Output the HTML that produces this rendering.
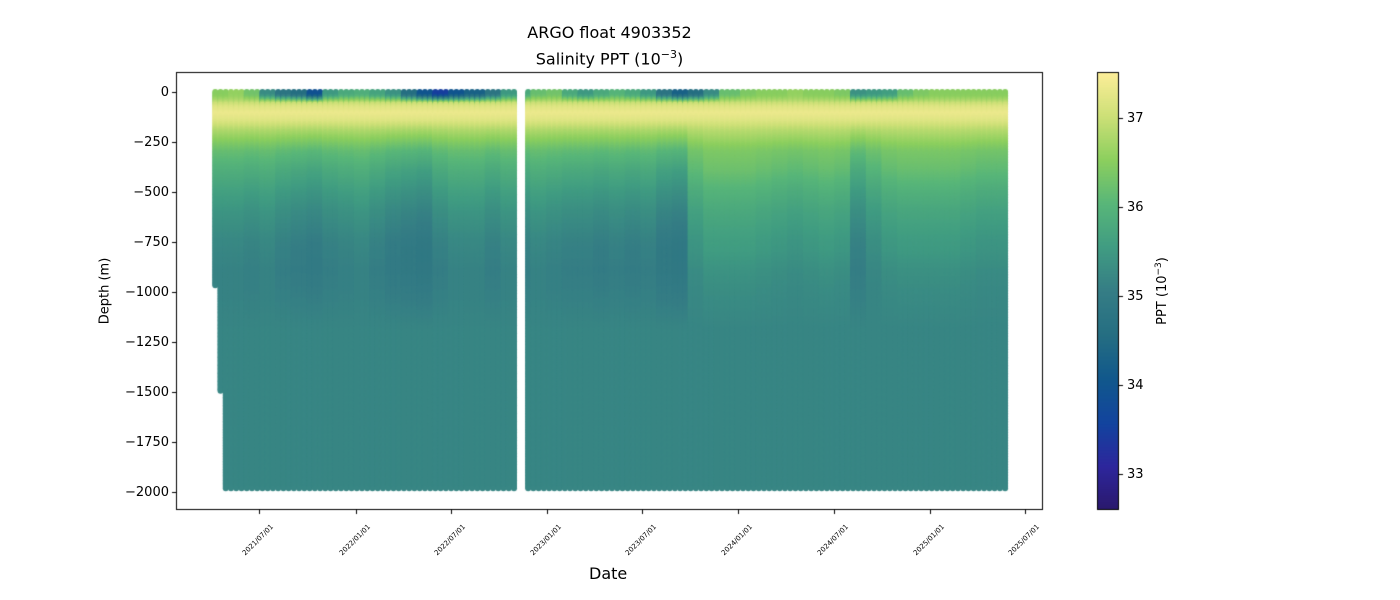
<!DOCTYPE html>
<html><head><meta charset="utf-8"><style>
body{margin:0;background:#fff;font-family:"DejaVu Sans","Liberation Sans",sans-serif}
#wrap{position:relative;width:1400px;height:600px;overflow:hidden}
canvas{position:absolute;left:0;top:0}
.t{position:absolute;color:#000;white-space:nowrap}
</style></head><body>
<div id="wrap">
<canvas id="c" width="1400" height="600"></canvas>
<div class="t" style="left:0;width:1219px;text-align:center;top:22px;font-size:16px;line-height:22px">ARGO float 4903352<br>Salinity PPT (10<sup style="font-size:11px">−3</sup>)</div>
<div class="t" style="left:589px;top:564px;font-size:16px">Date</div>
<div class="t" style="left:105px;top:291px;font-size:13px;transform:translate(-50%,-50%) rotate(-90deg)">Depth (m)</div>
<div class="t" style="left:1162px;top:291px;font-size:13px;transform:translate(-50%,-50%) rotate(-90deg)">PPT (10<sup style="font-size:9px">−3</sup>)</div>
<div id="labels"></div>
</div>
<script>
const depthLevels=[0,20,50,80,110,150,200,250,300,400,500,600,750,900,1000,1200,1500,2000];
const baseSal=[36.4,36.7,36.9,37.2,37.35,37.2,36.8,36.5,36.2,35.9,35.65,35.45,35.25,35.15,35.15,35.2,35.2,35.2];
// monthly from 2021-04 to 2025-05
const surfaceSal=[36.5,36.6,36.3,35.3,34.8,34.6,33.9,35.5,35.8,
35.9,35.7,35.4,34.6,34.0,33.5,34.0,34.3,34.8,35.5,35.8,36.2,
36.3,35.8,35.5,35.8,36.0,35.8,35.5,34.8,34.3,34.6,35.3,36.2,
36.4,36.5,36.5,36.6,36.5,36.5,36.4,35.4,35.5,35.6,36.2,36.4,
36.5,36.5,36.5,36.5,36.5];
const midAnom=[0,0,-0.05,0,-0.1,-0.15,-0.2,-0.1,-0.05,
0,-0.1,-0.2,-0.25,-0.3,-0.1,0,0,-0.1,0,-0.1,0,
-0.05,-0.1,-0.1,-0.15,-0.1,-0.15,-0.1,-0.25,-0.3,0.2,0.35,0.35,
0.35,0.3,0.25,0.2,0.25,0.3,0.25,-0.1,0.1,0.25,0.3,0.3,
0.3,0.3,0.25,0.2,0.2];
const yTicks=[0,-250,-500,-750,-1000,-1250,-1500,-1750,-2000];
const xTicks=["2021/07/01","2022/01/01","2022/07/01","2023/01/01","2023/07/01","2024/01/01","2024/07/01","2025/01/01","2025/07/01"];
const cbTicks=[33,34,35,36,37];
const segments=[["2021-04-08","2022-11-02"],["2022-11-26","2025-05-24"]];
const firstProfileDepths=[970,1500];

const DAY=86400000, ref=Date.UTC(2021,6,1);
function xScale(d){return 259.3+(d-ref)/DAY*0.5241;}
function yScale(v){return 92-v*(399.5/2000);}
const cbMin=32.6,cbMax=37.52;
function cbY(v){return 510-(v-cbMin)/(cbMax-cbMin)*438;}
const stops=[[0,[42,24,108]],[0.1,[45,38,156]],[0.2,[18,68,158]],[0.3,[17,88,140]],[0.4,[37,110,130]],[0.5,[53,125,133]],[0.6,[64,156,130]],[0.7,[88,182,121]],[0.8,[140,207,94]],[0.9,[205,224,119]],[1,[253,238,153]]];
function cmap(v){let t=Math.max(0,Math.min(1,(v-cbMin)/(cbMax-cbMin)));
for(let i=1;i<stops.length;i++){if(t<=stops[i][0]){const a=stops[i-1],b=stops[i],f=(t-a[0])/(b[0]-a[0]);
return `rgb(${a[1].map((c,k)=>Math.round(c+(b[1][k]-c)*f)).join(',')})`;}}return 'rgb(253,238,153)';}
function interp(d){for(let i=1;i<depthLevels.length;i++){if(d<=depthLevels[i]){const f=(d-depthLevels[i-1])/(depthLevels[i]-depthLevels[i-1]);return baseSal[i-1]+(baseSal[i]-baseSal[i-1])*f;}}return baseSal[baseSal.length-1];}
function monthIdx(t){const dt=new Date(t);return (dt.getUTCFullYear()-2021)*12+dt.getUTCMonth()-3;}

const c=document.getElementById('c'),g=c.getContext('2d');
g.fillStyle='#fff';g.fillRect(0,0,1400,600);
g.save();g.beginPath();g.rect(176,72,867,438);g.clip();
let pi=0;
segments.forEach(s=>{
  const a=Date.parse(s[0]+"T00:00Z"),b=Date.parse(s[1]+"T00:00Z");
  for(let t=a;t<=b;t+=10*DAY){
    const mi=Math.max(0,Math.min(surfaceSal.length-1,monthIdx(t)));
    const maxD=pi<firstProfileDepths.length?firstProfileDepths[pi]:1990;
    const x=xScale(t);
    for(let d=0;d<=maxD;d+=8){
      let v=interp(d);
      if(d<60){const w=d<=20?1:(60-d)/40;v=v*(1-w)+surfaceSal[mi]*w;}
      if(d>=150&&d<=1200){const w=d<400?(d-150)/250:(d<800?1:(1200-d)/400);v+=midAnom[mi]*w;}
      g.fillStyle=cmap(v);g.beginPath();g.arc(x,yScale(-d),3,0,Math.PI*2);g.fill();
    }
    pi++;
  }
});
g.restore();
g.strokeStyle='#000';g.lineWidth=1;g.strokeRect(176.5,72.5,866,437);
for(let y=73;y<510;y++){g.fillStyle=cmap(cbMin+(510-y)/438*(cbMax-cbMin));g.fillRect(1097,y,22,1);}
g.strokeRect(1097.5,72.5,21,437);
const L=document.getElementById('labels');
function lab(txt,css,name){const e=document.createElement('div');e.className='t';e.textContent=txt;e.style.cssText=css;


L.appendChild(e);}
g.fillStyle='#000';
yTicks.forEach(v=>{const y=Math.round(yScale(v))+0.5;g.beginPath();g.moveTo(172,y);g.lineTo(176,y);g.stroke();
lab(String(v).replace('-','−'),`right:${1400-169}px;top:${y-8}px;font-size:13px`,'y-tick-label');});
xTicks.forEach(s=>{const t=Date.parse(s.replace(/\//g,'-')+"T00:00Z");const x=Math.round(xScale(t))+0.5;
g.beginPath();g.moveTo(x,510);g.lineTo(x,514);g.stroke();
lab(s,`left:${x-32}px;top:535px;width:60px;line-height:10px;font-size:7px;text-align:center;transform:rotate(-45deg);transform-origin:50% 50%`,'x-tick-label');});
cbTicks.forEach(v=>{const y=Math.round(cbY(v))+0.5;g.beginPath();g.moveTo(1119,y);g.lineTo(1123,y);g.stroke();
lab(String(v),`left:1127px;top:${y-8}px;font-size:13px`,'colorbar-tick-label');});
</script>
</body></html>
